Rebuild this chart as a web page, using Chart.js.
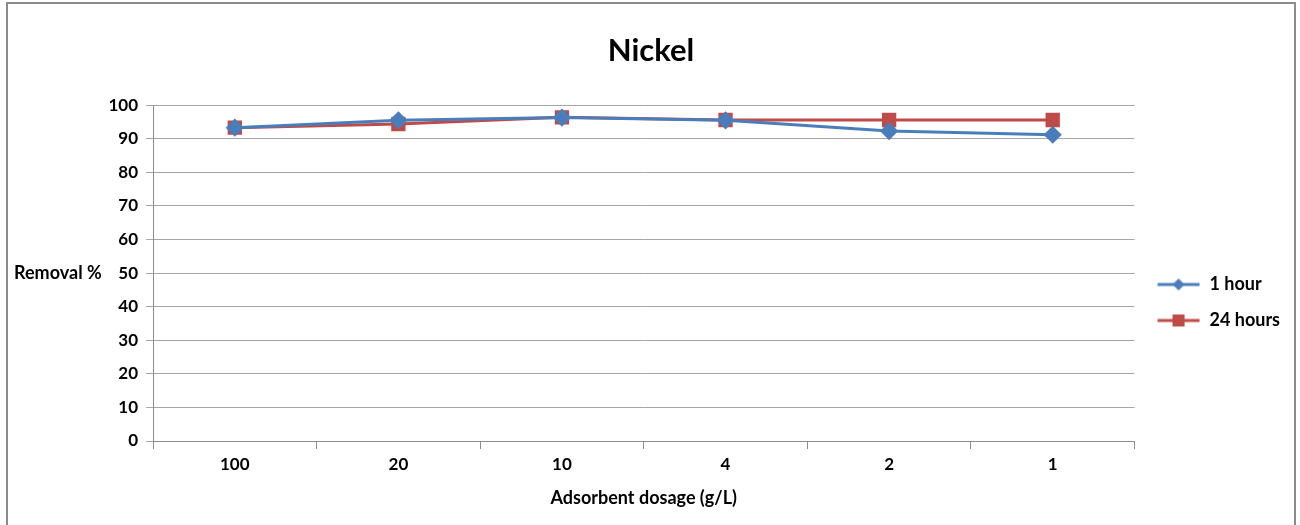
<!DOCTYPE html>
<html>
<head>
<meta charset="utf-8">
<script src="https://cdn.jsdelivr.net/npm/chart.js@4"></script>
<style>
  html, body { margin: 0; padding: 0; background: #fff; overflow: hidden; }
  #frame {
    position: absolute; left: 6px; top: 2px; width: 1290px; height: 540px;
    border: 2px solid #8c8c8c; box-sizing: border-box;
  }
  #wrap { position: absolute; left: 0; top: 0; width: 1300px; height: 525px; }
</style>
</head>
<body>
<div id="frame"></div>
<div id="wrap"><canvas id="nickelChart"></canvas></div>
<script>
// chart data
const dosages = ['100', '20', '10', '4', '2', '1'];
const oneHour = [93.3, 95.5, 96.3, 95.5, 92.3, 91.2];
const twentyFourHours = [93.3, 94.4, 96.4, 95.6, 95.6, 95.6];
const yTicks = [0, 10, 20, 30, 40, 50, 60, 70, 80, 90, 100];

const blue = '#4a7ebb';
const red = '#be4b48';
const fontFamily = 'Lato, "Open Sans", sans-serif';

// small legend swatch: line with the marker in the middle
function legendSwatch(color, shape) {
    const c = document.createElement('canvas');
    c.width = 44; c.height = 16;
    const g = c.getContext('2d');
    g.strokeStyle = color; g.lineWidth = 3;
    g.beginPath(); g.moveTo(1, 8); g.lineTo(43, 8); g.stroke();
    g.fillStyle = color;
    if (shape === 'diamond') {
        g.beginPath(); g.moveTo(22, 2); g.lineTo(28, 8); g.lineTo(22, 14); g.lineTo(16, 8); g.closePath(); g.fill();
    } else {
        g.fillRect(16, 2, 12, 12);
    }
    return c;
}

// horizontal y-axis title, plus small layout nudges
const yTitlePlugin = {
    id: 'yTitle',
    afterLayout(chart) {
        // legend sits a bit below the middle of the plot
        chart.legend.top += 46;
        chart.legend.bottom += 46;
        chart.legend.left += 4;
        chart.legend.right += 4;
        // centre the title on the whole canvas
        chart.titleBlock.left = 0;
        chart.titleBlock.right = 1302;
    },
    afterDraw(chart) {
        const ctx = chart.ctx;
        const y = chart.scales.y.getPixelForValue(50);
        ctx.save();
        ctx.font = 'bold 18px ' + fontFamily;
        ctx.fillStyle = '#000';
        ctx.textAlign = 'left';
        ctx.textBaseline = 'middle';
        ctx.fillText('Removal %', 14, y);
        ctx.restore();
    }
};

new Chart(document.getElementById('nickelChart'), {
    type: 'line',
    data: {
        labels: dosages,
        datasets: [
            { label: '1 hour', data: oneHour, borderColor: blue, backgroundColor: blue,
              borderWidth: 3, pointStyle: 'rectRot', pointRadius: 7, pointHoverRadius: 7, tension: 0 },
            { label: '24 hours', data: twentyFourHours, borderColor: red, backgroundColor: red,
              borderWidth: 3, pointStyle: 'rect', pointRadius: 8, pointHoverRadius: 8, tension: 0 }
        ]
    },
    options: {
        responsive: true,
        maintainAspectRatio: false,
        animation: false,
        layout: { padding: { left: 0, right: 14, top: 0, bottom: 12 } },
        plugins: {
            title: {
                display: true, text: 'Nickel', color: '#000',
                font: { family: fontFamily, size: 31, weight: 'bold' },
                padding: { top: 32, bottom: 36 }
            },
            legend: {
                position: 'right',
                labels: {
                    color: '#000',
                    font: { family: fontFamily, size: 18, weight: 'bold' },
                    usePointStyle: true,
                    pointStyleWidth: 44,
                    padding: 18,
                    generateLabels(chart) {
                        return chart.data.datasets.map((ds, i) => ({
                            text: ds.label,
                            pointStyle: legendSwatch(ds.borderColor, i === 0 ? 'diamond' : 'square'),
                            fontColor: '#000',
                            datasetIndex: i
                        }));
                    }
                }
            },
            tooltip: { enabled: false }
        },
        scales: {
            x: {
                offset: true,
                grid: { display: true, drawOnChartArea: false, offset: true, color: '#8c8c8c', tickLength: 8 },
                border: { color: '#8c8c8c', width: 1 },
                ticks: { color: '#000', font: { family: fontFamily, size: 17, weight: 'bold' }, padding: 5 },
                title: { display: true, text: 'Adsorbent dosage (g/L)', color: '#000',
                         font: { family: fontFamily, size: 18, weight: 'bold' }, padding: { top: 8 } }
            },
            y: {
                min: 0, max: 100,
                afterBuildTicks(scale) { scale.ticks = yTicks.map(v => ({ value: v })); },
                afterFit(scale) { scale.width = 153; },
                grid: { color: '#a6a6a6', tickLength: 7 },
                border: { color: '#8c8c8c', width: 1 },
                ticks: { color: '#000', font: { family: fontFamily, size: 17, weight: 'bold' }, padding: 8 }
            }
        }
    },
    plugins: [yTitlePlugin]
});
</script>
</body>
</html>
